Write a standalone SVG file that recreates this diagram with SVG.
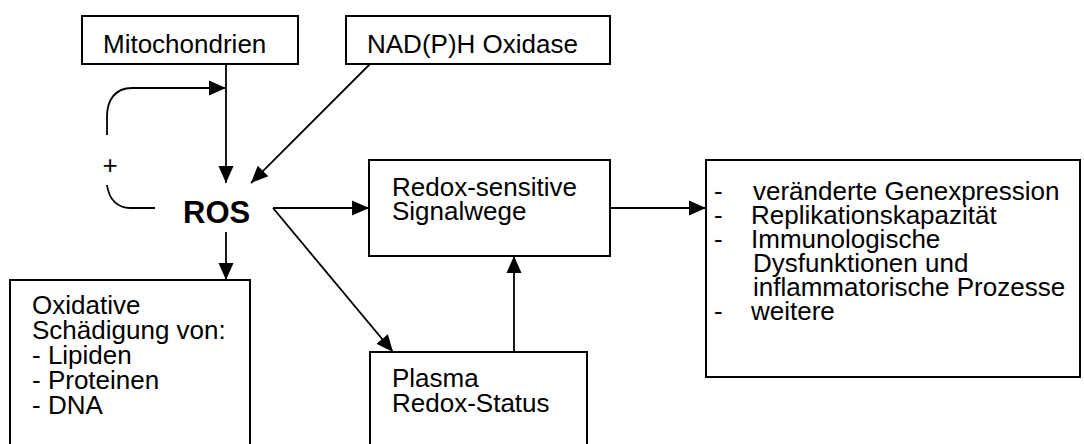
<svg xmlns="http://www.w3.org/2000/svg" width="1084" height="444" viewBox="0 0 1084 444">
<style>
.box{fill:#fff;stroke:#000;stroke-width:2}
.t{font-family:"Liberation Sans",Arial,sans-serif;font-size:26px;fill:#000}
.b{font-weight:bold;font-size:31px}
.ln{fill:none;stroke:#000;stroke-width:1.8}
</style>
<defs>
<marker id="ah" markerUnits="userSpaceOnUse" markerWidth="17" markerHeight="17" viewBox="0 0 17 17" refX="17" refY="8.5" orient="auto">
<path d="M0,1 L17,8.5 L0,16 z" fill="#000"/>
</marker>
</defs>
<rect width="1084" height="444" fill="#fff"/>
<g id="connectors">
<line class="ln" x1="226" y1="64" x2="226" y2="183" marker-end="url(#ah)"/>
<line class="ln" x1="370" y1="64" x2="251" y2="183" marker-end="url(#ah)"/>
<path class="ln" d="M107,135 L107,117 C107,100 115,88 132,88 L226,88" marker-end="url(#ah)"/>
<path class="ln" d="M107,185 C109,200 118,208 130,208 L155,208"/>
<line class="ln" x1="273" y1="208" x2="369" y2="208" marker-end="url(#ah)"/>
<line class="ln" x1="273" y1="208" x2="393" y2="352" marker-end="url(#ah)"/>
<line class="ln" x1="226" y1="232" x2="226" y2="280" marker-end="url(#ah)"/>
<line class="ln" x1="514" y1="352" x2="514" y2="256" marker-end="url(#ah)"/>
<line class="ln" x1="610" y1="208" x2="706" y2="208" marker-end="url(#ah)"/>
</g>
<g id="plus"><text class="t" x="110" y="174" text-anchor="middle">+</text></g>
<g id="mito">
<rect class="box" x="82" y="16" width="216" height="48"/>
<text class="t" x="103" y="53">Mitochondrien</text>
</g>
<g id="nadph">
<rect class="box" x="346" y="16" width="264" height="48"/>
<text class="t" x="367" y="53">NAD(P)H Oxidase</text>
</g>
<g id="ros">
<text class="t b" x="183" y="223">ROS</text>
</g>
<g id="redox">
<rect class="box" x="369" y="160" width="241" height="96"/>
<text class="t"><tspan x="392" y="196">Redox-sensitive</tspan><tspan x="392" y="220">Signalwege</tspan></text>
</g>
<g id="plasma">
<rect class="box" x="370" y="352" width="217" height="110"/>
<text class="t"><tspan x="392" y="387">Plasma</tspan><tspan x="392" y="412">Redox-Status</tspan></text>
</g>
<g id="oxid">
<rect class="box" x="10" y="280" width="240" height="180"/>
<text class="t"><tspan x="32" y="314">Oxidative</tspan><tspan x="32" y="339">Schädigung von:</tspan><tspan x="32" y="364">- Lipiden</tspan><tspan x="32" y="389">- Proteinen</tspan><tspan x="32" y="414">- DNA</tspan></text>
</g>
<g id="effects">
<rect class="box" x="706" y="160" width="374" height="217"/>
<text class="t"><tspan x="714" y="200">-</tspan><tspan x="753" y="200">veränderte Genexpression</tspan><tspan x="714" y="224">-</tspan><tspan x="751" y="224">Replikationskapazität</tspan><tspan x="714" y="248">-</tspan><tspan x="751" y="248">Immunologische</tspan><tspan x="753" y="272">Dysfunktionen und</tspan><tspan x="753" y="296">inflammatorische Prozesse</tspan><tspan x="714" y="320">-</tspan><tspan x="751" y="320">weitere</tspan></text>
</g>
</svg>
